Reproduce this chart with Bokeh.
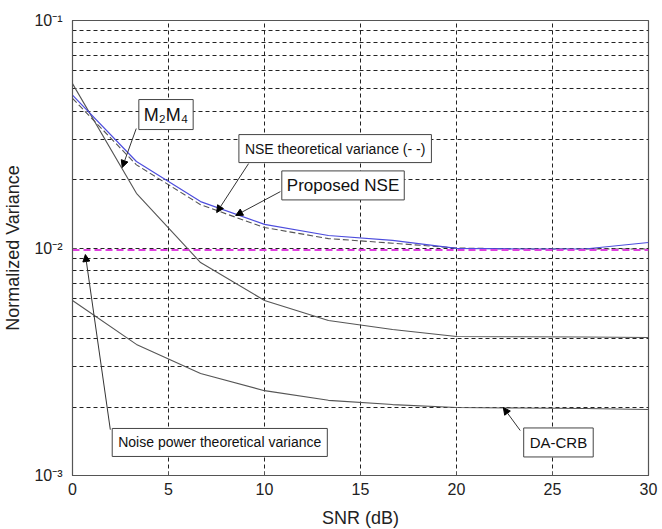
from bokeh.plotting import figure
from bokeh.models import (FixedTicker, Label, Arrow, NormalHead, Range1d)
from bokeh.embed import file_html
from bokeh.resources import INLINE

# ---- data ----
snr = [0, 3.33, 6.67, 10, 13.33, 16.67, 20, 23.33, 26.67, 30]
proposed_nse = [0.047, 0.024, 0.016, 0.0127, 0.01135, 0.0108, 0.00996, 0.0099, 0.0099, 0.01057]
nse_theory = [0.0455, 0.0232, 0.0155, 0.0123, 0.0110, 0.0105, 0.0100, 0.0099, 0.0099, 0.0099]
m2m4 = [0.0528, 0.0174, 0.00863, 0.00588, 0.0048, 0.00438, 0.00408, 0.00407, 0.00406, 0.00404]
da_crb = [0.00588, 0.00377, 0.00281, 0.00236, 0.00214, 0.00205, 0.00199, 0.00198, 0.00197, 0.00195]
noise_theory = [0.0098] * len(snr)

x_ticks = [0, 5, 10, 15, 20, 25, 30]
y_ticks = [0.001, 0.01, 0.1]
y_minor = [k * 1e-3 for k in range(2, 10)] + [k * 1e-2 for k in range(2, 10)]
y_labels = {0.001: "10\u207b\u00b3", 0.01: "10\u207b\u00b2", 0.1: "10\u207b\u00b9"}

FONT = "Liberation Sans"

p = figure(width=662, height=529, y_axis_type="log", output_backend="svg",
           toolbar_location=None, x_range=Range1d(0, 30), y_range=Range1d(0.001, 0.1),
           min_border_left=72, min_border_right=14, min_border_top=20, min_border_bottom=54)
p.frame_width = 576
p.frame_height = 455

p.background_fill_color = "white"
p.border_fill_color = "white"
p.outline_line_color = "#555555"
p.outline_line_width = 1.2

p.xaxis.ticker = FixedTicker(ticks=x_ticks)
p.yaxis.ticker = FixedTicker(ticks=y_ticks, minor_ticks=y_minor)
p.yaxis.major_label_overrides = y_labels

for ax in (p.xaxis[0], p.yaxis[0]):
    ax.axis_line_color = "#555555"
    ax.major_tick_line_color = "#555555"
    ax.major_tick_in = 4
    ax.major_tick_out = 0
    ax.minor_tick_line_color = None
    ax.major_label_text_font = FONT
    ax.major_label_text_font_size = "16px"
    ax.major_label_text_color = "#222222"
    ax.axis_label_text_font = FONT
    ax.axis_label_text_font_size = "18px"
    ax.axis_label_text_font_style = "normal"
    ax.axis_label_text_color = "#222222"

p.xaxis.axis_label = "SNR (dB)"
p.yaxis.axis_label = "Normalized Variance"
p.xaxis.major_label_standoff = 7
p.xaxis.axis_label_standoff = 10
p.yaxis.major_label_standoff = 6
p.yaxis.axis_label_standoff = 8

p.xgrid.grid_line_color = "#222222"
p.xgrid.grid_line_dash = "4 3"
p.xgrid.grid_line_width = 1
p.ygrid.grid_line_color = "#222222"
p.ygrid.grid_line_dash = "4 3"
p.ygrid.minor_grid_line_color = "#222222"
p.ygrid.minor_grid_line_dash = "4 3"

# curves
p.line(snr, m2m4, line_color="#555555", line_width=1.1)
p.line(snr, da_crb, line_color="#555555", line_width=1.1)
p.line(snr, nse_theory, line_color="#555555", line_width=1.1, line_dash="6 3")
p.line(snr, proposed_nse, line_color="#4d4ddd", line_width=1.2)
p.line(snr, noise_theory, line_color="#e040e0", line_width=1.8, line_dash="7 4")

# annotations
def box(x, y, text, size, pad=5):
    lab = Label(x=x, y=y, text=text, text_align="center", text_baseline="middle",
                text_font=FONT, text_font_size=size, text_color="#111111",
                border_line_color="#444444", border_line_width=1,
                background_fill_color="white", padding=pad)
    p.add_layout(lab)

def arrow(x0, y0, x1, y1):
    p.add_layout(Arrow(x_start=x0, y_start=y0, x_end=x1, y_end=y1,
                       line_color="#333333", line_width=1,
                       end=NormalHead(size=7, fill_color="black", line_color="black")))

arrow(3.32, 0.0335, 2.59, 0.0226)
box(4.87, 0.0386, "M\u2082M\u2084", "18px")

arrow(9.17, 0.0235, 7.51, 0.01432)
box(13.68, 0.02735, "NSE theoretical variance (- -)", "14px", 6)

arrow(10.83, 0.0177, 8.5, 0.0139)
box(14.09, 0.01884, "Proposed NSE", "17px", 5)

arrow(1.97, 0.00159, 0.67, 0.00936)
box(7.67, 0.001397, "Noise power theoretical variance", "14px", 6)

arrow(23.32, 0.001577, 22.44, 0.00199)
box(25.31, 0.001397, "DA-CRB", "15px", 6)

open("out.html", "w").write(file_html(p, INLINE))
